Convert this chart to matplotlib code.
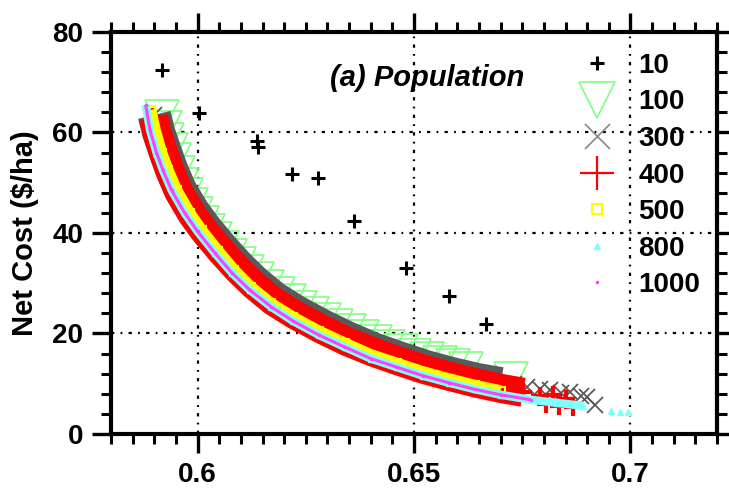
import matplotlib
matplotlib.use("Agg")
import matplotlib.pyplot as plt
import numpy as np
from matplotlib.lines import Line2D
from matplotlib.ticker import MultipleLocator

plt.rcParams['font.family'] = ['Liberation Sans', 'DejaVu Sans']

# ---- data ----
pop10_x = [0.5917, 0.6003, 0.6137, 0.6140, 0.6218, 0.6278, 0.6361, 0.6481, 0.6581, 0.6666]
pop10_y = [72.4, 63.8, 58.3, 57.1, 51.8, 51.0, 42.4, 33.0, 27.4, 21.8]

pop100_x = [0.5917, 0.5924, 0.5930, 0.5938, 0.5945, 0.5954, 0.5963, 0.5974, 0.5985, 0.5997,
            0.6010, 0.6025, 0.6040, 0.6057, 0.6075, 0.6095, 0.6115, 0.6137, 0.6160, 0.6185,
            0.6210, 0.6237, 0.6265, 0.6292, 0.6320, 0.6350, 0.6380, 0.6410, 0.6440, 0.6470,
            0.6500, 0.6530, 0.6560, 0.6590, 0.6620, 0.6724]
pop100_y = [63.1, 60.8, 58.5, 56.5, 54.5, 52.0, 49.5, 47.5, 45.5, 43.7,
            42.0, 40.4, 38.8, 37.1, 35.5, 33.9, 32.3, 30.8, 29.3, 27.9,
            26.5, 25.1, 23.8, 22.6, 21.5, 20.4, 19.3, 18.3, 17.4, 16.5,
            15.6, 14.9, 14.2, 13.6, 13.0, 11.0]

pop300_x = [0.5900, 0.5910, 0.5925, 0.5940, 0.5960, 0.5990, 0.6019, 0.6057, 0.6095, 0.6132,
            0.6177, 0.6227, 0.6287, 0.6347, 0.6407, 0.6467, 0.6527, 0.6587, 0.6647, 0.6700,
            0.6730, 0.6760, 0.6790, 0.6814, 0.6840, 0.6860, 0.6885, 0.6900, 0.6918]
pop300_y = [63.5, 60.0, 56.2, 52.6, 48.6, 44.3, 40.9, 37.0, 33.4, 30.3,
            27.1, 24.4, 21.6, 19.1, 16.9, 15.1, 13.4, 12.0, 10.8, 10.0,
            10.0, 9.3, 8.9, 8.8, 8.2, 8.4, 7.5, 7.3, 5.8]

pop400_x = [0.5898, 0.5908, 0.5923, 0.5938, 0.5958, 0.5988, 0.6017, 0.6055, 0.6093, 0.6130,
            0.6175, 0.6225, 0.6285, 0.6345, 0.6405, 0.6465, 0.6525, 0.6585, 0.6645, 0.6705,
            0.6752, 0.6790, 0.6805, 0.6820, 0.6835, 0.6850, 0.6867]
pop400_y = [63.0, 59.5, 55.5, 52.0, 48.0, 43.6, 40.2, 36.3, 32.7, 29.6,
            26.4, 23.7, 20.9, 18.4, 16.3, 14.5, 12.8, 11.4, 10.1, 9.0,
            8.3, 7.5, 6.0, 7.8, 5.6, 7.0, 5.4]

pop500_x = [0.5892, 0.5902, 0.5917, 0.5932, 0.5952, 0.5982, 0.6010, 0.6048, 0.6085, 0.6123,
            0.6170, 0.6220, 0.6280, 0.6340, 0.6400, 0.6460, 0.6520, 0.6580, 0.6640, 0.6700]
pop500_y = [64.5, 60.5, 56.0, 52.5, 48.5, 44.0, 40.5, 36.4, 32.6, 29.3,
            26.0, 23.3, 20.5, 18.1, 15.8, 14.1, 12.4, 11.0, 9.7, 8.6]

pop800_x = [0.5880, 0.5890, 0.5905, 0.5920, 0.5940, 0.5970, 0.6000, 0.6040, 0.6080, 0.6120,
            0.6170, 0.6220, 0.6280, 0.6340, 0.6400, 0.6460, 0.6520, 0.6580, 0.6640, 0.6700,
            0.6770, 0.6830, 0.6890, 0.6955, 0.6975, 0.6995]
pop800_y = [65.5, 60.5, 56.0, 52.5, 48.5, 44.0, 40.3, 36.0, 32.0, 28.7,
            25.3, 22.5, 19.7, 17.3, 15.0, 13.3, 11.6, 10.2, 8.9, 7.8,
            6.8, 6.2, 5.6, 4.6, 4.4, 4.4]

pop1000_x = [0.5880, 0.5890, 0.5905, 0.5920, 0.5940, 0.5970, 0.6000, 0.6040, 0.6080, 0.6120,
             0.6170, 0.6220, 0.6280, 0.6340, 0.6400, 0.6460, 0.6520, 0.6580, 0.6640, 0.6700,
             0.6770]
pop1000_y = [65.5, 60.5, 56.0, 52.5, 48.5, 44.0, 40.3, 36.0, 32.0, 28.7,
             25.3, 22.5, 19.7, 17.3, 15.0, 13.3, 11.6, 10.2, 8.9, 7.8,
             6.8]

labels = ["10", "100", "300", "400", "500", "800", "1000"]
x_ticks = [0.6, 0.65, 0.7]
x_ticklabels = ["0.6", "0.65", "0.7"]
y_ticks = [0, 20, 40, 60, 80]

# ---- figure ----
fig = plt.figure(figsize=(7.29, 4.88), dpi=100)
ax = fig.add_axes([0.1523, 0.1107, 0.8313, 0.8238])
ax.set_xlim(0.58, 0.72)
ax.set_ylim(0, 80)

c_green = '#80ff80'
c_gray = '#5a5a5a'
c_red = '#ff0000'
c_yellow = '#ffff00'
c_cyan = '#80ffff'
c_mag = '#ff40ff'


def band(xs, ys, cutoff, color, lw, marker, ms, mew, z, **kw):
    xs = np.asarray(xs)
    ys = np.asarray(ys)
    dense = xs <= cutoff
    ax.plot(xs[dense], ys[dense], color=color, lw=lw, solid_capstyle='butt',
            solid_joinstyle='round', zorder=z)
    ax.plot(xs, ys, linestyle='none', color=color, marker=marker, ms=ms, mew=mew, zorder=z, **kw)


ax.plot(pop10_x, pop10_y, linestyle='none', marker='+', ms=10, mew=2.2, color='black', zorder=3)
ax.plot(pop100_x, pop100_y, linestyle='none', marker='v', ms=24, mfc='none', mec=c_green, mew=1.2, zorder=4)
band(pop300_x, pop300_y, 0.6705, c_gray, 24, 'x', 11, 1.3, 5)
band(pop400_x, pop400_y, 0.6755, c_red, 21, '+', 13, 3, 6)
band(pop500_x, pop500_y, 0.6705, c_yellow, 8, 's', 6, 1.5, 7, mfc='none')
band(pop800_x, pop800_y, 0.6900, c_cyan, 6, '^', 4.5, 1, 8)
band(pop1000_x, pop1000_y, 0.6780, c_mag, 2.2, '.', 3, 1, 9)

# grid
ax.set_axisbelow(True)
ax.set_xticks(x_ticks)
ax.set_xticklabels(x_ticklabels)
ax.set_yticks(y_ticks)
ax.xaxis.set_minor_locator(MultipleLocator(0.005))
ax.yaxis.set_minor_locator(MultipleLocator(4))
for xv in x_ticks:
    ax.axvline(xv, color='black', lw=1.6, linestyle=(0, (1.5, 2.8, 0.8, 2.8)), zorder=1)
for yv in [20, 40, 60]:
    ax.axhline(yv, color='black', lw=1.6, linestyle=(0, (1.5, 2.8, 0.8, 2.8)), zorder=1)

for s in ax.spines.values():
    s.set_linewidth(3)
ax.tick_params(which='both', direction='out', top=True, right=True, labeltop=False, labelright=False)
ax.tick_params(which='major', length=14, width=2.4, labelsize=20, pad=6)
ax.tick_params(which='minor', length=7, width=2.2)
for lab in ax.get_xticklabels() + ax.get_yticklabels():
    lab.set_fontweight('bold')

ax.set_ylabel("Net Cost ($/ha)", fontsize=21, fontweight='bold')
ax.yaxis.set_label_coords(-0.119, 0.5)

ax.text(0.521, 0.886, "(a) Population", transform=ax.transAxes, ha='center', va='center',
        fontsize=21, fontweight='bold', fontstyle='italic')

handles = [
    Line2D([], [], linestyle='none', marker='+', ms=10, mew=2.2, color='black'),
    Line2D([], [], linestyle='none', marker='v', ms=26, mfc='none', mec=c_green, mew=1.2),
    Line2D([], [], linestyle='none', marker='x', ms=18, mew=1.2, color='#888888'),
    Line2D([], [], linestyle='none', marker='+', ms=24, mew=1.6, color=c_red),
    Line2D([], [], linestyle='none', marker='s', ms=7, mfc='none', mec=c_yellow, mew=1.6),
    Line2D([], [], linestyle='none', marker='^', ms=4, color=c_cyan),
    Line2D([], [], linestyle='none', marker='.', ms=3, color=c_mag),
]
leg = ax.legend(handles, labels, loc='upper left', bbox_to_anchor=(0.756, 0.948),
                frameon=False, borderpad=0, borderaxespad=0, handlelength=2.0,
                handletextpad=0.5, labelspacing=0.38, prop={'size': 20, 'weight': 'bold'})

fig.savefig("out.png", dpi=100)
